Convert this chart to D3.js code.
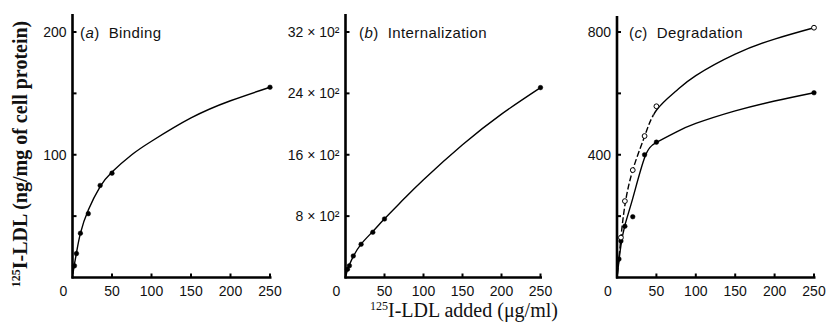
<!DOCTYPE html>
<html>
<head>
<meta charset="utf-8">
<script src="https://cdn.jsdelivr.net/npm/d3@7"></script>
<style>
  body { margin: 0; background: #fff; }
  svg { display: block; }
  .tick-label { font-family: "Liberation Sans", Arial, sans-serif; font-size: 14px; fill: #111; }
  .title { font-family: "Liberation Sans", Arial, sans-serif; font-size: 15px; letter-spacing: 0.4px; fill: #111; }
  .axis-title { font-family: "Liberation Serif", "Times New Roman", serif; font-size: 20px; fill: #111; }
</style>
</head>
<body>
<div class="chart"></div>
<script>
// data
const conc = [2.5, 5, 10, 20, 35, 50, 250];           // µg/ml added
const curveX = [0.5, 2.5, 5, 10, 20, 35, 50, 75, 100, 150, 200, 250];

// (a) binding
const bindingPts = [9.5, 19.5, 36, 52, 75, 85, 155];
const bindingCurve = [3, 11, 20, 36, 55, 74, 86, 100, 111, 130, 144, 155];

// (b) internalization
const internPts = [107, 154, 281, 433, 590, 763, 2475];
const internCurve = [20, 100, 165, 275, 435, 600, 765, 1025, 1275, 1730, 2130, 2475];

// (c) degradation, filled and open symbols
const degFilledPts = [60, 119, 167, 198, 400, 441, 602];
const degFilledCurve = [10, 55, 105, 170, 258, 390, 440, 474, 502, 543, 575, 602];
const openConc = [5, 10, 20, 35, 50, 250];
const degOpenPts = [130, 249, 350, 461, 558, 814];
const degOpenCurve = [12, 65, 130, 235, 350, 460, 545, 608, 658, 728, 777, 814];

const xTicks = [0, 50, 100, 150, 200, 250];

const W = 832, H = 322;
const svg = d3.select(".chart").append("svg")
    .attr("width", W)
    .attr("height", H);

const panels = [
  { x0: 72.5, x1: 270, yTop: 14, yAt: 32, yAtVal: 200,
    yTicks: [50, 100, 150, 200], yLabels: [100, 200], fmt: d => d,
    title: "a", name: "Binding", tx: 80 },
  { x0: 345.5, x1: 540.5, yTop: 14, yAt: 32, yAtVal: 3200,
    yTicks: [800, 1600, 2400, 3200], yLabels: [800, 1600, 2400, 3200], fmt: d => (d / 100) + " \u00d7 10\u00b2",
    title: "b", name: "Internalization", tx: 359 },
  { x0: 617, x1: 814, yTop: 16, yAt: 32, yAtVal: 800,
    yTicks: [200, 400, 600, 800], yLabels: [400, 800], fmt: d => d,
    title: "c", name: "Degradation", tx: 629 }
];

const base = 277.5;

panels.forEach(p => {
  p.x = d3.scaleLinear().domain([0, 250]).range([p.x0, p.x1]);
  p.y = d3.scaleLinear().domain([0, p.yAtVal]).range([base, p.yAt]);
  const g = svg.append("g");
  p.g = g;

  // axes
  g.append("line")
      .attr("x1", p.x0).attr("x2", p.x0)
      .attr("y1", p.yTop).attr("y2", base + 1)
      .attr("stroke", "#000").attr("stroke-width", 2.6);
  g.append("line")
      .attr("x1", p.x0 - 1).attr("x2", p.x1 + 1.5)
      .attr("y1", base).attr("y2", base)
      .attr("stroke", "#000").attr("stroke-width", 2.6);

  // x ticks (inward)
  g.selectAll(".xt").data(xTicks.slice(1)).enter().append("line")
      .attr("x1", d => p.x(d)).attr("x2", d => p.x(d))
      .attr("y1", base).attr("y2", base - 4)
      .attr("stroke", "#000").attr("stroke-width", 2);
  g.selectAll(".xl").data(xTicks).enter().append("text")
      .attr("class", "tick-label")
      .attr("x", d => d === 0 ? p.x(d) - 9 : p.x(d))
      .attr("y", 296)
      .attr("text-anchor", "middle")
      .text(d => d);

  // y ticks (inward)
  g.selectAll(".yt").data(p.yTicks).enter().append("line")
      .attr("x1", p.x0).attr("x2", p.x0 + 4)
      .attr("y1", d => p.y(d)).attr("y2", d => p.y(d))
      .attr("stroke", "#000").attr("stroke-width", 2);
  g.selectAll(".yl").data(p.yLabels).enter().append("text")
      .attr("class", "tick-label")
      .attr("x", p.x0 - 6)
      .attr("y", d => p.y(d))
      .attr("dy", "0.35em")
      .attr("text-anchor", "end")
      .text(p.fmt);

  // panel title
  const t = g.append("text").attr("class", "title")
      .attr("x", p.tx).attr("y", 38)
      .attr("xml:space", "preserve");
  t.append("tspan").text("(");
  t.append("tspan").style("font-style", "italic").text(p.title);
  t.append("tspan").text(")  " + p.name);
});

const line = (p, ys, xs) => d3.line()
    .x((d, i) => p.x(xs[i]))
    .y(d => p.y(d))
    .curve(d3.curveNatural)(ys);

function drawCurve(p, ys, xs, dash, clip) {
  p.g.append("path")
      .attr("d", line(p, ys, xs))
      .attr("fill", "none")
      .attr("stroke", "#000")
      .attr("stroke-width", 1.4)
      .attr("stroke-dasharray", dash || null)
      .attr("clip-path", clip ? "url(#" + clip + ")" : null);
}

function drawDots(p, ys, xs, open) {
  p.g.selectAll(null).data(ys).enter().append("circle")
      .attr("cx", (d, i) => p.x(xs[i]))
      .attr("cy", d => p.y(d))
      .attr("r", open ? 2.4 : 2.3)
      .attr("fill", open ? "#fff" : "#000")
      .attr("stroke", "#000")
      .attr("stroke-width", open ? 1 : 0.5);
}

const [pa, pb, pc] = panels;
drawCurve(pa, bindingCurve, curveX);
drawDots(pa, bindingPts, conc, false);

drawCurve(pb, internCurve, curveX);
drawDots(pb, internPts, conc, false);

// open-symbol curve in (c) is broken at low concentrations, solid above
const splitAt = pc.x(46);
const defs = svg.append("defs");
defs.append("clipPath").attr("id", "lowPart").append("rect")
    .attr("x", 0).attr("y", 0).attr("width", splitAt).attr("height", H);
defs.append("clipPath").attr("id", "highPart").append("rect")
    .attr("x", splitAt).attr("y", 0).attr("width", W - splitAt).attr("height", H);

drawCurve(pc, degFilledCurve, curveX);
drawCurve(pc, degOpenCurve, curveX, "6,2.5", "lowPart");
drawCurve(pc, degOpenCurve, curveX, null, "highPart");
drawDots(pc, degFilledPts, conc, false);
drawDots(pc, degOpenPts, openConc, true);

// axis titles
const yt = svg.append("text").attr("class", "axis-title")
    .attr("transform", "translate(27,154) rotate(-90)")
    .attr("text-anchor", "middle")
    .style("font-weight", "bold");
yt.append("tspan").attr("font-size", "12px").attr("dy", "-7").text("125");
yt.append("tspan").attr("dy", "7").text("I-LDL (ng/mg of cell protein)");

const xt = svg.append("text").attr("class", "axis-title")
    .attr("x", 464).attr("y", 317)
    .attr("text-anchor", "middle");
xt.append("tspan").attr("font-size", "12px").attr("dy", "-7").text("125");
xt.append("tspan").attr("dy", "7").text("I-LDL added (\u03bcg/ml)");
</script>
</body>
</html>
